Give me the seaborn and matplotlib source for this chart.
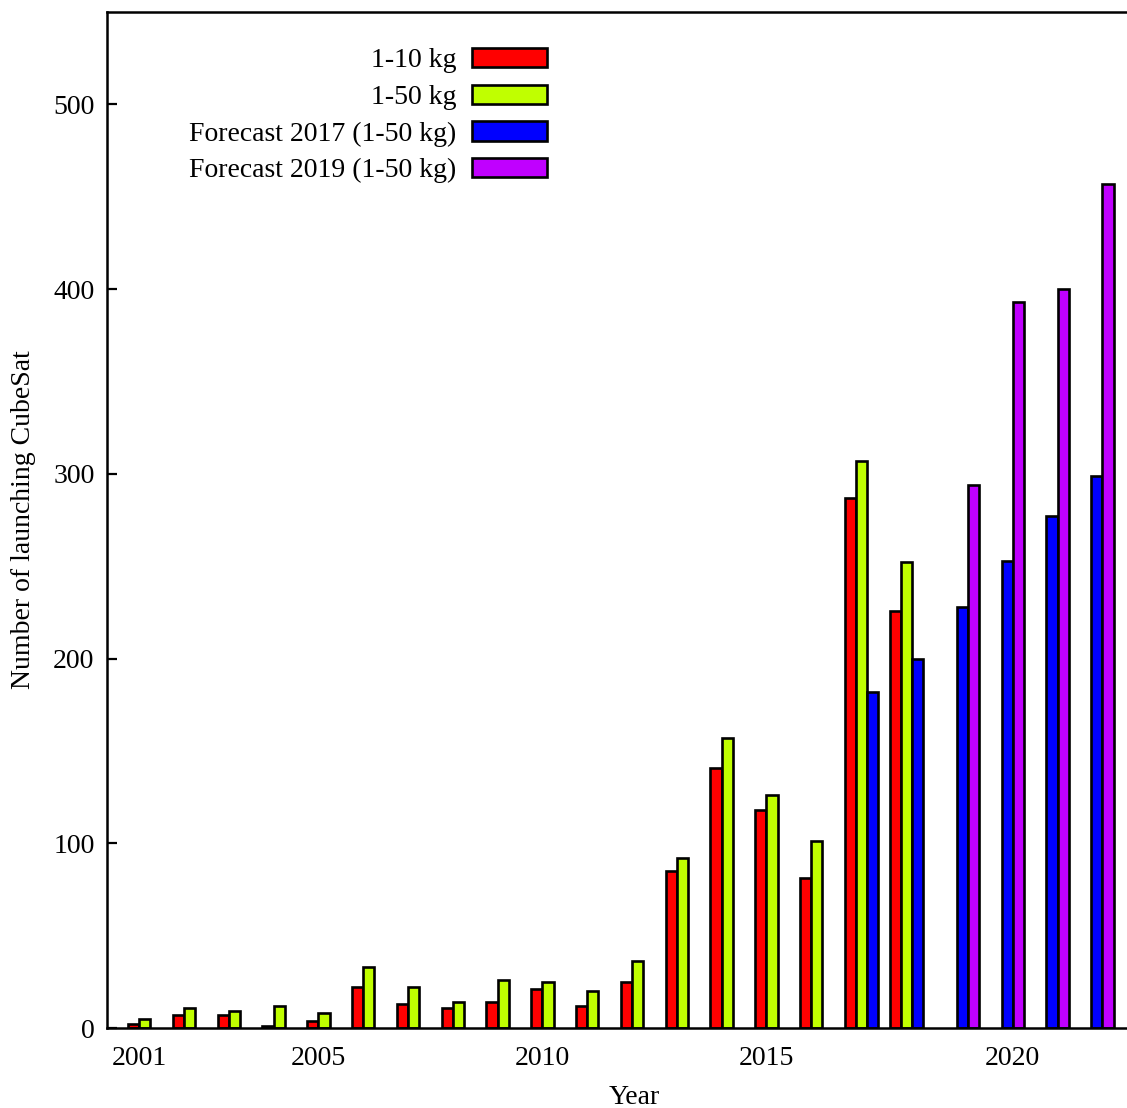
import pandas as pd
import matplotlib.pyplot as plt
import seaborn as sns

sns.set_theme(style="white")
plt.rcParams['font.family'] = ['Liberation Serif', 'DejaVu Serif']
plt.rcParams['text.color'] = 'black'
plt.rcParams['axes.labelcolor'] = 'black'
plt.rcParams['xtick.color'] = 'black'
plt.rcParams['ytick.color'] = 'black'

# CubeSat launches per year
years = list(range(2001, 2023))
years_actual = list(range(2001, 2019))
kg_1_10 = [2, 7, 7, 1, 4, 22, 13, 11, 14, 21, 12, 25, 85, 141, 118, 81, 287, 226]
kg_1_50 = [5, 11, 9, 12, 8, 33, 22, 14, 26, 25, 20, 36, 92, 157, 126, 101, 307, 252]
years_fc2017 = list(range(2017, 2023))
forecast_2017 = [182, 200, 228, 253, 277, 299]
years_fc2019 = list(range(2019, 2023))
forecast_2019 = [294, 393, 400, 457]

series_names = ['1-10 kg', '1-50 kg', 'Forecast 2017 (1-50 kg)', 'Forecast 2019 (1-50 kg)']
colors = ['#ff0000', '#c0ff00', '#0000ff', '#c000ff']

df = pd.concat([
    pd.DataFrame({'Year': years_actual, 'Series': series_names[0], 'Count': kg_1_10}),
    pd.DataFrame({'Year': years_actual, 'Series': series_names[1], 'Count': kg_1_50}),
    pd.DataFrame({'Year': years_fc2017, 'Series': series_names[2], 'Count': forecast_2017}),
    pd.DataFrame({'Year': years_fc2019, 'Series': series_names[3], 'Count': forecast_2019}),
], ignore_index=True)

fig = plt.figure(figsize=(11.27, 11.08), dpi=100)
W, H = 1127, 1108
ax = fig.add_axes([107 / W, 1 - 1028 / H, (1161 - 107) / W, (1028 - 12) / H])

sns.barplot(data=df, x='Year', y='Count', hue='Series', order=years,
            hue_order=series_names, palette=colors, width=1.0, gap=0,
            edgecolor='black', linewidth=1.9, saturation=1, errorbar=None, ax=ax)

ax.set_ylim(0, 550)
ax.set_xlim(-0.969, 22.56)
ax.set_yticks([0, 100, 200, 300, 400, 500])

# year labels sit between the bars of each pair
label_years = [2001, 2005, 2010, 2015, 2020]
label_pos = [years.index(y) - 0.25 if y < 2019 else years.index(y) + 0.25 for y in label_years]
ax.set_xticks(label_pos)
ax.set_xticklabels([str(y) for y in label_years])

ax.tick_params(axis='y', direction='in', length=7, width=1.6, pad=9, labelsize=20, left=True)
ax.tick_params(axis='x', length=0, pad=13, labelsize=20)
for s in ['left', 'top', 'bottom']:
    ax.spines[s].set_visible(True)
    ax.spines[s].set_color('black')
    ax.spines[s].set_linewidth(1.8)
ax.spines['right'].set_visible(False)

ax.set_xlabel('Year', fontsize=20, labelpad=10)
ax.set_ylabel('Number of launching CubeSat', fontsize=20, labelpad=12)

ax.legend(loc='upper right', bbox_to_anchor=(547 / W, 1 - 48 / H), bbox_transform=fig.transFigure,
          frameon=False, fontsize=20, markerfirst=False, handlelength=2.7, handleheight=0.7,
          handletextpad=0.55, labelspacing=0.4, borderpad=0, borderaxespad=0)

fig.savefig('out.png', dpi=100)
